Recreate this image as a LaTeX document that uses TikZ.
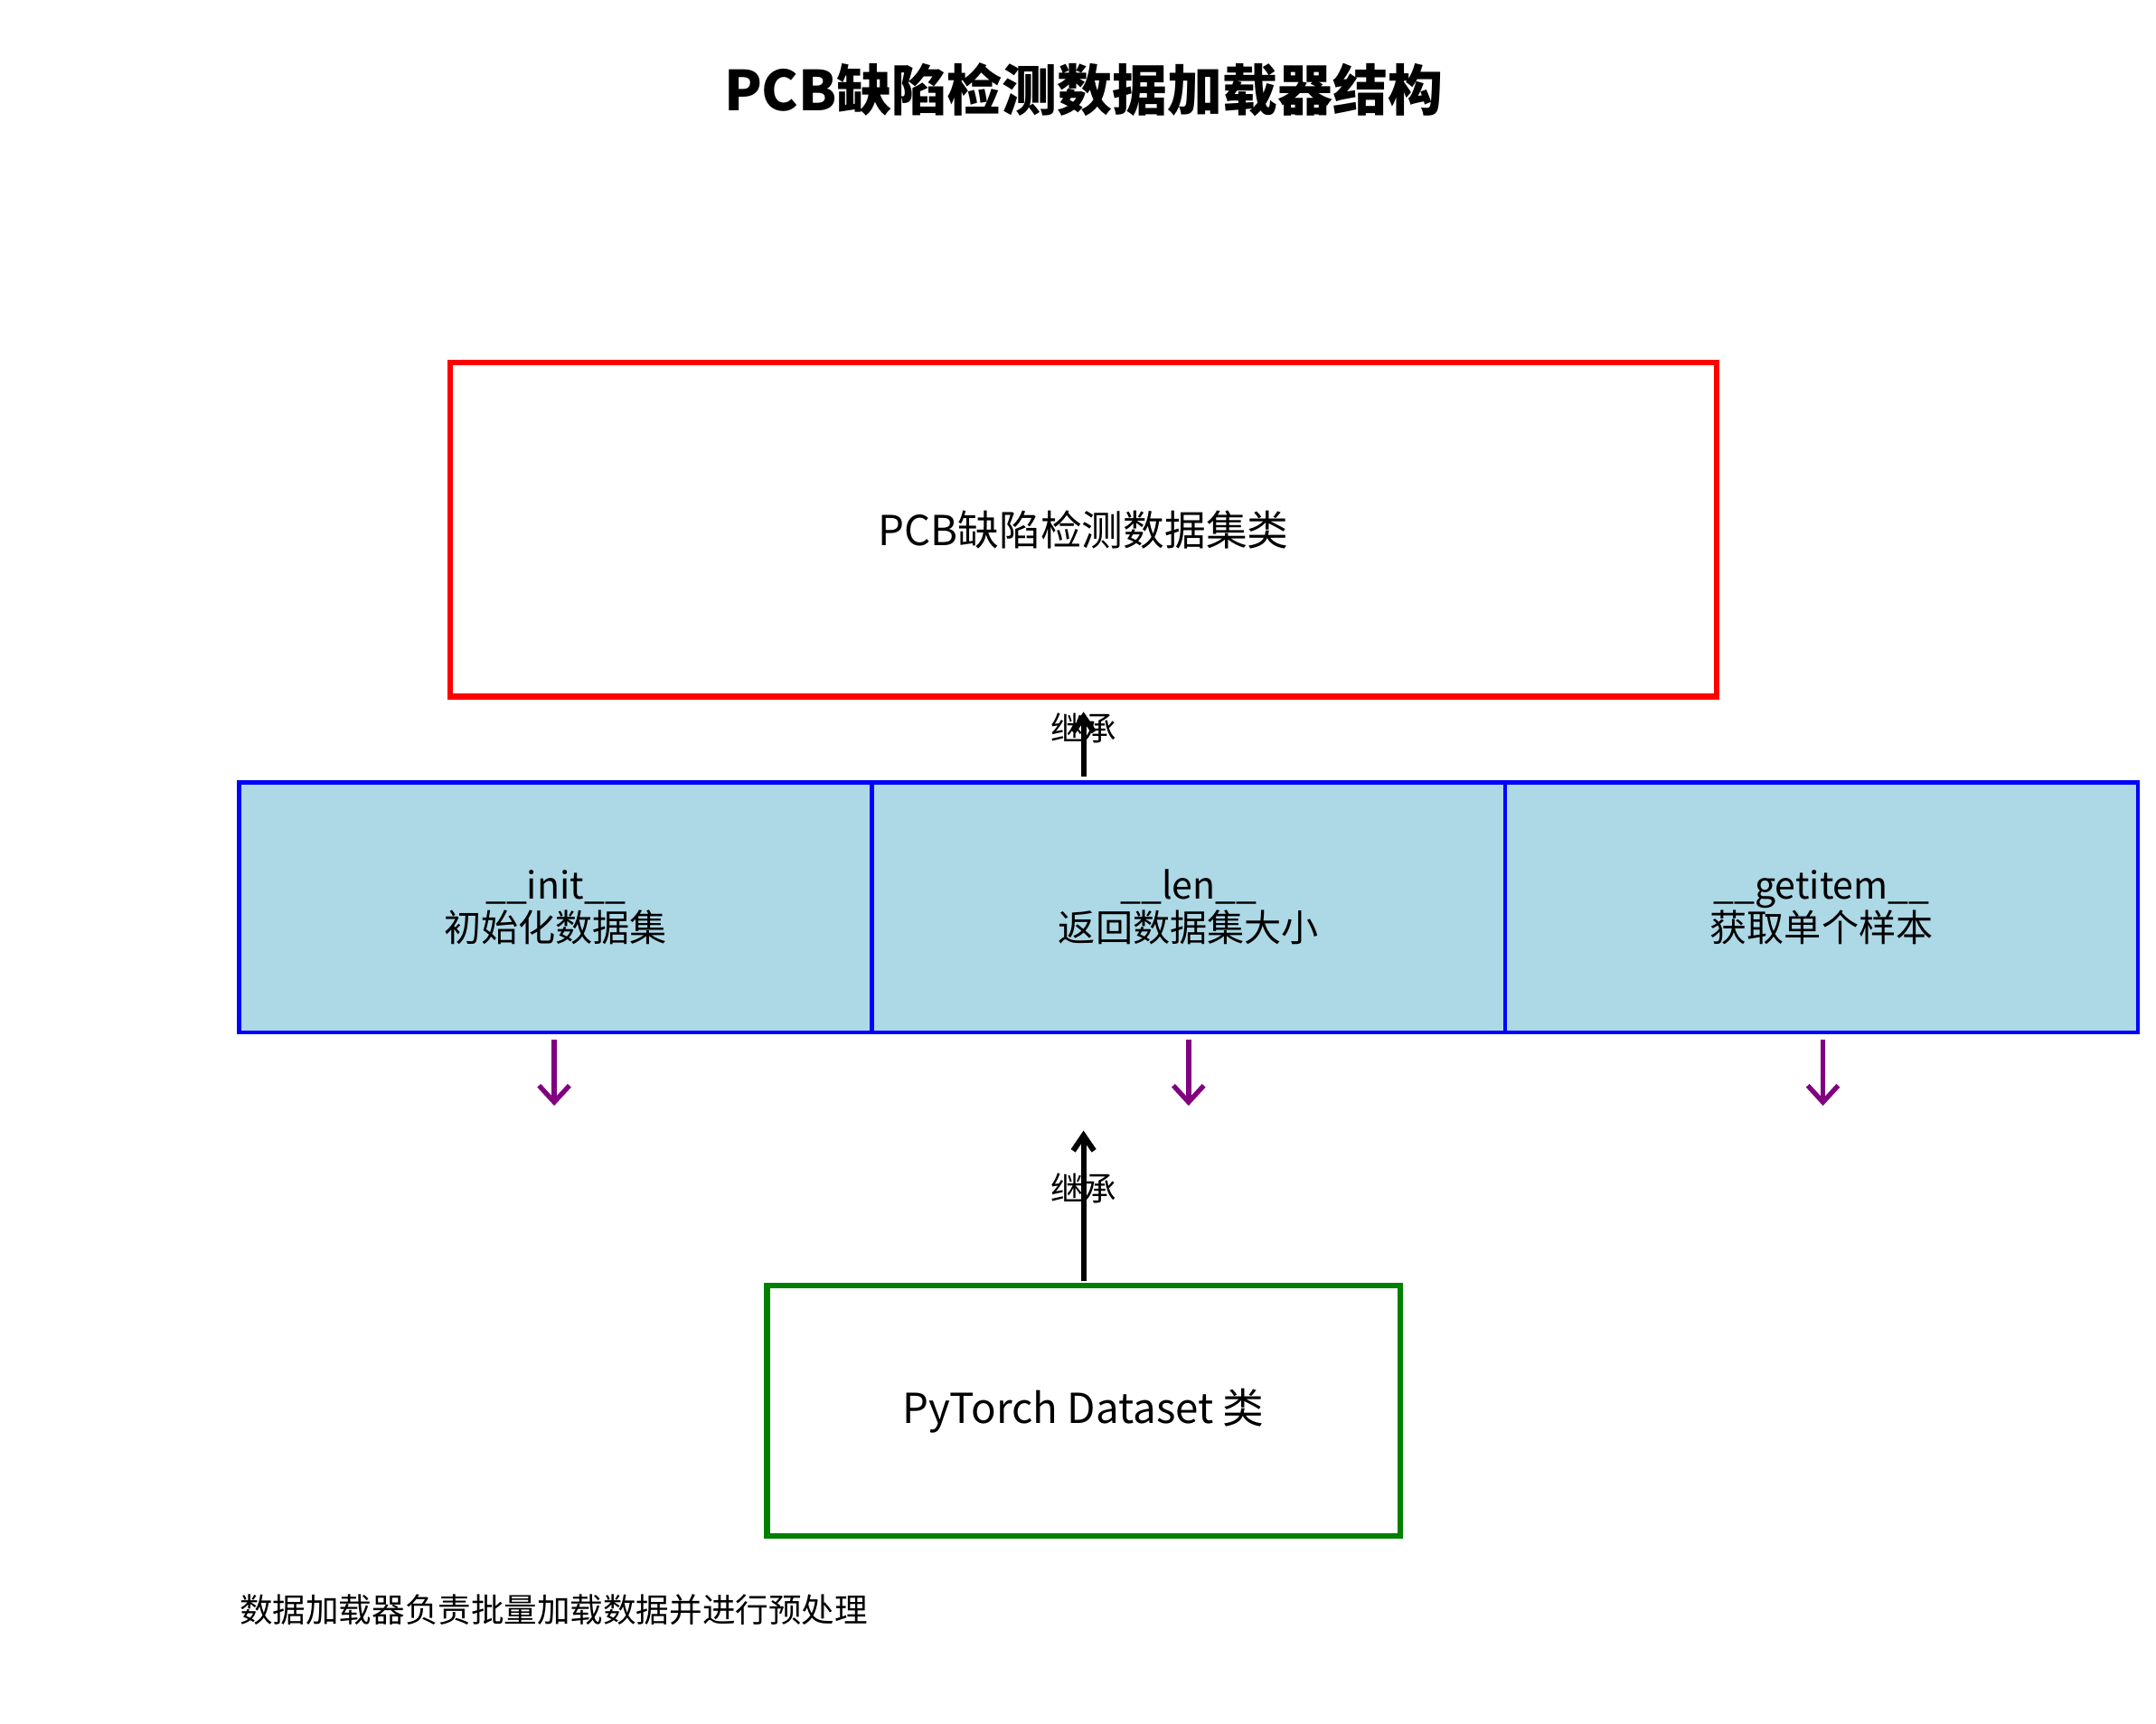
\documentclass[tikz,border=0pt]{standalone}
\usepackage{fontspec}
\setmainfont{Noto Sans CJK SC}
\usetikzlibrary{arrows.meta}
\definecolor{lb}{RGB}{173,216,230}
\definecolor{pur}{RGB}{128,0,128}
\definecolor{grn}{RGB}{0,128,0}
\begin{document}
\begin{tikzpicture}[x=1bp,y=-1bp,
  box/.style={draw,line width=4bp,inner sep=0pt},
  meth/.style={draw=blue,fill=lb,line width=3bp,minimum width=458bp,minimum height=181bp,inner sep=0pt,align=center,font=\fontsize{27}{31}\selectfont},
  inh/.style={line width=4bp,-{Straight Barb[length=11bp,width=15bp]}},
  call/.style={pur,line width=3.5bp,-{Straight Barb[length=12bp,width=22bp]}},
  lab/.style={font=\fontsize{24}{28}\selectfont}]
\useasboundingbox (0,0) rectangle (1560,1247);
\node[font=\bfseries\fontsize{40}{44}\selectfont] (title) at (784,65) {PCB缺陷检测数据加载器结构};
\node[box,draw=red,minimum width=916bp,minimum height=242bp,font=\fontsize{30}{34}\selectfont] (pcb) at (784,383) {PCB缺陷检测数据集类};
\node[meth] (m1) at (402,656.5) {\_\_init\_\_\\初始化数据集};
\node[meth] (m2) at (860,656.5) {\_\_len\_\_\\返回数据集大小};
\node[meth] (m3) at (1318,656.5) {\_\_getitem\_\_\\获取单个样本};
\node[box,draw=grn,minimum width=458bp,minimum height=181bp,font=\fontsize{30}{34}\selectfont] (torch) at (784,1020.5) {PyTorch Dataset 类};
\coordinate (a1s) at (784,562); \coordinate (a1e) at (784,515);
\draw[inh] (a1s) -- (a1e);
\node[lab] (l1) at (784,527) {继承};
\coordinate (a2s) at (784,927); \coordinate (a2e) at (784,818);
\draw[inh] (a2s) -- (a2e);
\node[lab] (l2) at (784,860) {继承};
\foreach \x/\n in {401/p1,860/p2,1319/p3}{
  \coordinate (\n s) at (\x,752); \coordinate (\n e) at (\x,800);
  \draw[call] (\n s) -- (\n e);}
\node[lab,anchor=west] (note) at (170,1165) {数据加载器负责批量加载数据并进行预处理};
\end{tikzpicture}
\end{document}
